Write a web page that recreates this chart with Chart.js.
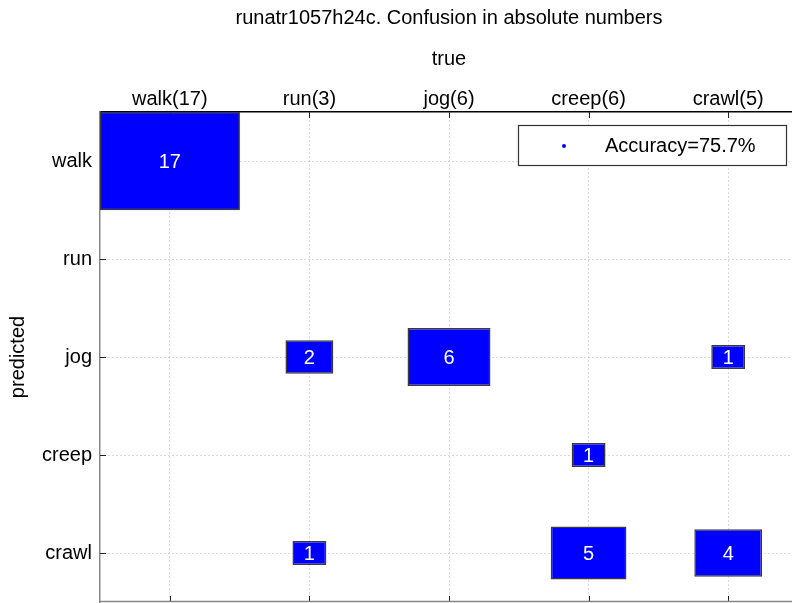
<!DOCTYPE html>
<html>
<head>
<meta charset="utf-8">
<script src="https://cdn.jsdelivr.net/npm/chart.js@4/dist/chart.umd.min.js"></script>
<style>
  html, body { margin: 0; padding: 0; overflow: hidden; background: #fff; }
  canvas { display: block; }
</style>
</head>
<body>
<canvas id="myChart" width="800" height="603"></canvas>
<script>
// classes, same for true (columns) and predicted (rows)
var classes = ['walk', 'run', 'jog', 'creep', 'crawl'];

// confusion counts, one row per predicted class, columns = true class
var predWalk  = [17, 0, 0, 0, 0];
var predRun   = [0, 0, 0, 0, 0];
var predJog   = [0, 2, 6, 0, 1];
var predCreep = [0, 0, 0, 1, 0];
var predCrawl = [0, 1, 0, 5, 4];
var confusion = [predWalk, predRun, predJog, predCreep, predCrawl];

var FONT = "'Liberation Sans', Arial, Helvetica, sans-serif";

// column sums give the true label text, e.g. walk(17)
var colSums = classes.map(function(c, j) {
    return confusion.reduce(function(s, row) { return s + row[j]; }, 0);
});
var trueLabels = classes.map(function(c, j) { return c + '(' + colSums[j] + ')'; });

var total = 0, hits = 0, maxCount = 0;
confusion.forEach(function(row, i) {
    row.forEach(function(v, j) {
        total += v;
        if (i === j) hits += v;
        if (v > maxCount) maxCount = v;
    });
});
var accuracyText = 'Accuracy=' + (100 * hits / total).toFixed(1) + '%';

// one floating bar per non empty cell, side ~ sqrt(count/max)
var datasets = [];
confusion.forEach(function(row, i) {
    row.forEach(function(v, j) {
        if (!v) return;
        var s = Math.sqrt(v / maxCount);
        datasets.push({
            label: classes[i] + '/' + classes[j],
            count: v,
            data: [{ y: classes[i], x: [j - s / 2, j + s / 2] }],
            backgroundColor: '#0000ff',
            borderColor: '#3a3a3a',
            borderWidth: 1.5,
            borderSkipped: false,
            barPercentage: s,
            categoryPercentage: 1,
            grouped: false
        });
    });
});

// numbers in the boxes
var cellText = {
    id: 'cellText',
    afterDatasetsDraw: function(chart) {
        var ctx = chart.ctx;
        ctx.save();
        ctx.fillStyle = '#ffffff';
        ctx.font = '20px ' + FONT;
        ctx.textAlign = 'center';
        ctx.textBaseline = 'middle';
        chart.data.datasets.forEach(function(ds, k) {
            chart.getDatasetMeta(k).data.forEach(function(bar) {
                ctx.fillText(String(ds.count), (bar.x + bar.base) / 2, bar.y + 1);
            });
        });
        ctx.restore();
    }
};

// inward tick marks and bottom frame line, matlab style
var frame = {
    id: 'frame',
    beforeDatasetsDraw: function(chart) {
        var ctx = chart.ctx, a = chart.chartArea;
        var xs = chart.scales.x, ys = chart.scales.y;
        ctx.save();
        ctx.lineWidth = 1;
        ctx.strokeStyle = '#222';
        xs.ticks.forEach(function(t) {
            var px = Math.round(xs.getPixelForValue(t.value)) + 0.5;
            ctx.beginPath(); ctx.moveTo(px, a.top); ctx.lineTo(px, a.top + 6); ctx.stroke();
            ctx.beginPath(); ctx.moveTo(px, a.bottom); ctx.lineTo(px, a.bottom - 6); ctx.stroke();
        });
        ys.ticks.forEach(function(t, i) {
            var py = Math.round(ys.getPixelForTick(i)) + 0.5;
            ctx.beginPath(); ctx.moveTo(a.left, py); ctx.lineTo(a.left + 6, py); ctx.stroke();
        });
        ctx.strokeStyle = '#888';
        ctx.lineWidth = 1.5;
        ctx.beginPath(); ctx.moveTo(a.left, a.bottom - 0.5); ctx.lineTo(a.right, a.bottom - 0.5); ctx.stroke();
        ctx.restore();
    }
};

// boxed legend with the accuracy
var accLegend = {
    id: 'accLegend',
    afterDraw: function(chart) {
        var ctx = chart.ctx;
        ctx.save();
        ctx.fillStyle = '#ffffff';
        ctx.fillRect(518, 125, 268, 40);
        ctx.strokeStyle = '#333';
        ctx.lineWidth = 1.2;
        ctx.strokeRect(518.5, 125.5, 268, 40);
        ctx.fillStyle = '#0000ff';
        ctx.beginPath(); ctx.arc(564, 146, 2, 0, Math.PI * 2); ctx.fill();
        ctx.fillStyle = '#000';
        ctx.font = '20px ' + FONT;
        ctx.textBaseline = 'middle';
        ctx.fillText(accuracyText, 605, 146);
        ctx.restore();
    }
};

var ctx = document.getElementById('myChart').getContext('2d');
var confChart = new Chart(ctx, {
    type: 'bar',
    data: {
        labels: classes,
        datasets: datasets
    },
    plugins: [frame, cellText, accLegend],
    options: {
        responsive: false,
        animation: false,
        devicePixelRatio: 1,
        indexAxis: 'y',
        layout: { padding: { left: 0, right: 2, top: 0, bottom: 1 } },
        plugins: {
            legend: { display: false },
            tooltip: { enabled: false },
            title: {
                display: true,
                fullSize: false,
                text: 'runatr1057h24c. Confusion in absolute numbers',
                color: '#000',
                font: { family: FONT, size: 20, weight: 'normal' },
                padding: { top: 6, bottom: 0 }
            }
        },
        scales: {
            x: {
                type: 'linear',
                position: 'top',
                min: -0.5,
                max: 4.5,
                afterBuildTicks: function(scale) {
                    scale.ticks = classes.map(function(c, j) { return { value: j }; });
                },
                afterFit: function(scale) {
                    scale.height = 82;
                    scale.paddingLeft = 0;
                    scale.paddingRight = 0;
                },
                ticks: {
                    autoSkip: false,
                    maxRotation: 0,
                    padding: 1,
                    color: '#000',
                    font: { family: FONT, size: 20 },
                    callback: function(v) { return trueLabels[v]; }
                },
                title: {
                    display: true,
                    text: 'true',
                    color: '#000',
                    font: { family: FONT, size: 20 },
                    padding: { top: 17, bottom: 0 }
                },
                grid: { color: '#b5b5b5', lineWidth: 1, drawTicks: false },
                border: { color: '#000', width: 1.5, dash: [1, 3] }
            },
            y: {
                type: 'category',
                offset: true,
                afterFit: function(scale) {
                    scale.width = 100;
                    scale.paddingTop = 0;
                    scale.paddingBottom = 0;
                },
                ticks: {
                    padding: 8,
                    color: '#000',
                    font: { family: FONT, size: 20 }
                },
                title: {
                    display: true,
                    text: 'predicted',
                    color: '#000',
                    font: { family: FONT, size: 20 },
                    padding: { top: 6, bottom: 0 }
                },
                grid: { color: '#b5b5b5', lineWidth: 1, drawTicks: false, offset: false },
                border: { color: '#888', width: 1.5, dash: [1, 3] }
            }
        }
    }
});
</script>
</body>
</html>
